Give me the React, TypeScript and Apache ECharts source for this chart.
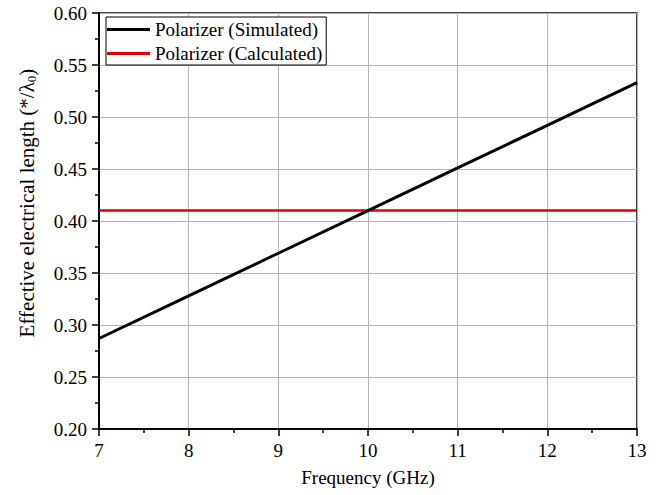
import React, { useEffect, useRef } from "react";
import * as echarts from "echarts";

// Frequency points (GHz)
const frequency = [7, 8, 9, 10, 11, 12, 13];
// Effective electrical length, in units of λ0
const simulated = [0.287, 0.328, 0.369, 0.41, 0.451, 0.492, 0.533];
const calculated = [0.41, 0.41, 0.41, 0.41, 0.41, 0.41, 0.41];
const seriesNames = ["Polarizer (Simulated)", "Polarizer (Calculated)"];

const FONT = "Liberation Serif";

export default function App() {
  const ref = useRef<HTMLDivElement>(null);

  useEffect(() => {
    if (!ref.current) return;
    const chart = echarts.init(ref.current, undefined, { renderer: "svg" });
    chart.setOption({
      animation: false,
      backgroundColor: "#ffffff",
      textStyle: { fontFamily: FONT, color: "#000" },
      grid: {
        left: 99,
        right: 23,
        top: 13,
        bottom: 66,
        show: true,
        borderColor: "#000",
        borderWidth: 1.5,
        backgroundColor: "transparent",
      },
      legend: {
        orient: "vertical",
        left: 106,
        top: 17,
        padding: [3, 4, 2, 1],
        itemGap: 5,
        itemWidth: 43,
        itemHeight: 3,
        icon: "rect",
        backgroundColor: "#fff",
        borderColor: "#000",
        borderWidth: 1,
        textStyle: { fontFamily: FONT, fontSize: 19, color: "#000", lineHeight: 19 },
        data: seriesNames,
      },
      // Rotated y-axis title with a subscripted λ0
      graphic: [
        {
          type: "text",
          x: 27,
          y: 203,
          rotation: Math.PI / 2,
          style: {
            text: "Effective electrical length (*/λ{sub|0})",
            fontFamily: FONT,
            fontSize: 21,
            fill: "#000",
            align: "center",
            verticalAlign: "middle",
            rich: {
              sub: { fontFamily: FONT, fontSize: 13, fill: "#000", padding: [9, 0, 0, 0] },
            },
          },
        },
      ],
      xAxis: {
        type: "value",
        min: 7,
        max: 13,
        interval: 1,
        name: "Frequency (GHz)",
        nameLocation: "middle",
        nameGap: 39,
        nameTextStyle: { fontFamily: FONT, fontSize: 19, color: "#000" },
        axisLine: { show: true, lineStyle: { color: "#000", width: 2 } },
        axisTick: { show: true, length: 7, lineStyle: { color: "#000", width: 1.5 } },
        minorTick: { show: true, splitNumber: 2, length: 4, lineStyle: { color: "#000", width: 1.5 } },
        axisLabel: { fontFamily: FONT, fontSize: 19, color: "#000", margin: 12 },
        splitLine: { show: true, lineStyle: { color: "#b4b4b4", width: 1 } },
      },
      yAxis: {
        type: "value",
        min: 0.2,
        max: 0.6,
        interval: 0.05,
        axisLine: { show: true, lineStyle: { color: "#000", width: 2 } },
        axisTick: { show: true, length: 7, lineStyle: { color: "#000", width: 1.5 } },
        minorTick: { show: true, splitNumber: 2, length: 4, lineStyle: { color: "#000", width: 1.5 } },
        axisLabel: {
          fontFamily: FONT,
          fontSize: 19,
          color: "#000",
          margin: 12,
          formatter: (v: number) => v.toFixed(2),
        },
        splitLine: { show: true, lineStyle: { color: "#b4b4b4", width: 1 } },
      },
      series: [
        {
          name: seriesNames[1],
          type: "line",
          data: frequency.map((f, i) => [f, calculated[i]]),
          showSymbol: false,
          symbol: "none",
          lineStyle: { color: "#e00000", width: 2.5 },
          itemStyle: { color: "#e00000" },
          z: 3,
        },
        {
          name: seriesNames[0],
          type: "line",
          data: frequency.map((f, i) => [f, simulated[i]]),
          showSymbol: false,
          symbol: "none",
          lineStyle: { color: "#000", width: 3 },
          itemStyle: { color: "#000" },
          z: 4,
        },
      ],
    });
    return () => chart.dispose();
  }, []);

  return (
    <div
      ref={ref}
      style={{ position: "fixed", left: 0, top: 0, width: 660, height: 495 }}
    />
  );
}
